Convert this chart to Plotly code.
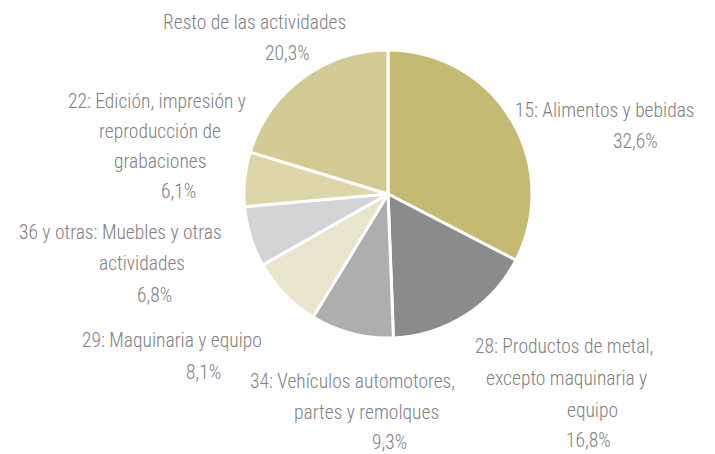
import plotly.graph_objects as go

# ---- data ----
categories = [
    "15: Alimentos y bebidas",
    "28: Productos de metal, excepto maquinaria y equipo",
    "34: Vehículos automotores, partes y remolques",
    "29: Maquinaria y equipo",
    "36 y otras: Muebles y otras actividades",
    "22: Edición, impresión y reproducción de grabaciones",
    "Resto de las actividades",
]
values = [32.6, 16.8, 9.3, 8.1, 6.8, 6.1, 20.3]
label_lines = [
    ["15: Alimentos y bebidas"],
    ["28: Productos de metal,", "excepto maquinaria y", "equipo"],
    ["34: Vehículos automotores,", "partes y remolques"],
    ["29: Maquinaria y equipo"],
    ["36 y otras: Muebles y otras", "actividades"],
    ["22: Edición, impresión y", "reproducción de", "grabaciones"],
    ["Resto de las actividades"],
]

# ---- styles / layout ----
colors = ["#C4BA72", "#8B8B8D", "#AEAEB0", "#E9E5CC", "#D3D4D6", "#DDD6A8", "#D4CB94"]
W, H = 715, 454
# pixel centers (x, y) of each text line incl. percentage line
line_pos = [
    [(605, 110), (635, 141)],
    [(564, 346), (566, 378), (592, 410), (588, 440)],
    [(352, 381), (366, 412), (390, 442)],
    [(172, 340), (203, 372)],
    [(120, 232), (142, 263), (154, 295)],
    [(157, 101), (160, 131), (160, 161), (178, 191)],
    [(254, 22), (287, 53)],
]
FONT = "Roboto Condensed"
TXT = "#808080"
FS = 19.5

cx, cy, r = 388, 194, 144

fig = go.Figure(go.Pie(
    labels=categories,
    values=values,
    sort=False,
    direction="clockwise",
    rotation=0,
    marker=dict(colors=colors, line=dict(color="white", width=3)),
    textinfo="none",
    hoverinfo="label+percent",
    domain=dict(x=[(cx - r) / W, (cx + r) / W], y=[(H - cy - r) / H, (H - cy + r) / H]),
))

annotations = []
for lines, v, pos in zip(label_lines, values, line_pos):
    texts = lines + [f"{v:.1f}".replace(".", ",") + "%"]
    for t, (px, py) in zip(texts, pos):
        annotations.append(dict(
            text=t, x=px / W, y=1 - py / H, xref="paper", yref="paper",
            xanchor="center", yanchor="middle", showarrow=False,
            font=dict(family=FONT, size=FS, color=TXT, weight=300),
        ))

fig.update_layout(
    width=W, height=H,
    margin=dict(l=0, r=0, t=0, b=0),
    paper_bgcolor="white", plot_bgcolor="white",
    showlegend=False,
    annotations=annotations,
)

fig.write_html("out.html", config={"displayModeBar": False},
               post_script="document.body.style.margin='0';")
